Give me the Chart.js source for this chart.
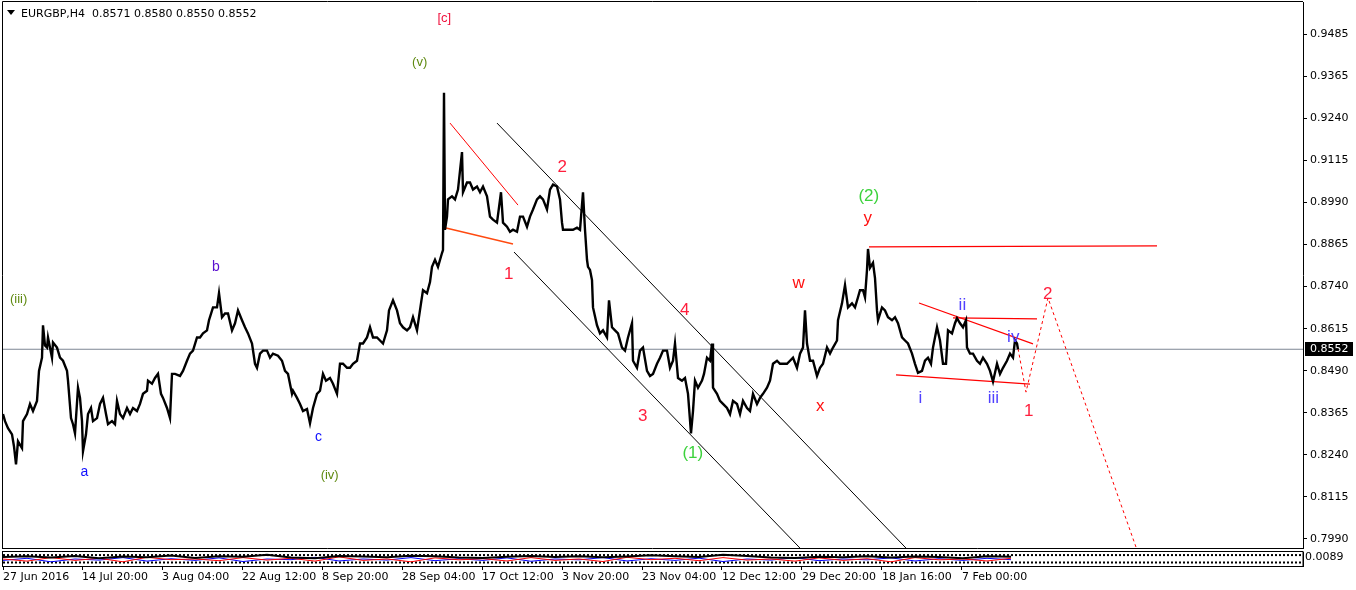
<!DOCTYPE html>
<html>
<head>
<meta charset="utf-8">
<script src="https://cdn.jsdelivr.net/npm/chart.js@4.4.1/dist/chart.umd.min.js"></script>
<style>
html, body { margin: 0; padding: 0; background: #fff; overflow: hidden; }
#main { position: absolute; left: 0; top: 0; }
#sub { position: absolute; left: 0; top: 549px; }
</style>
</head>
<body>
<canvas id="main" width="1356" height="550"></canvas>
<canvas id="sub" width="1356" height="41"></canvas>
<script>
// EURGBP H4, bar index (0 = 27 Jun 2016 00:00) and close
const bars = [
  0, 2, 5, 9, 11, 13, 15, 19, 20, 24,
  27, 30, 34, 36, 39, 40, 42, 44, 45, 49,
  50, 54, 57, 60, 64, 65, 68, 70, 72, 75,
  77, 79, 80, 83, 85, 88, 90, 94, 97, 100,
  103, 105, 109, 112, 114, 117, 120, 124, 127, 130,
  134, 137, 140, 144, 145, 149, 152, 155, 158, 160,
  164, 167, 169, 172, 177, 180, 184, 187, 190, 194,
  197, 200, 204, 206, 210, 214, 216, 219, 222, 225,
  229, 232, 235, 239, 242, 245, 249, 252, 254, 257,
  260, 264, 267, 270, 275, 279, 282, 285, 289, 290,
  294, 297, 300, 304, 307, 310, 314, 317, 320, 323,
  327, 330, 334, 337, 340, 344, 347, 350, 354, 357,
  360, 364, 367, 370, 374, 377, 380, 384, 386, 390,
  394, 397, 400, 404, 407, 410, 414, 418, 420, 424,
  427, 429, 432, 435, 439, 440, 441, 442, 444, 445,
  449, 452, 455, 459, 460, 464, 467, 470, 474, 477,
  480, 484, 487, 490, 494, 498, 500, 504, 507, 510,
  514, 517, 520, 524, 527, 530, 534, 537, 540, 544,
  547, 550, 554, 557, 559, 560, 564, 567, 570, 574,
  577, 580, 582, 584, 585, 587, 589, 590, 594, 597,
  600, 604, 606, 609, 612, 615, 619, 622, 625, 629,
  630, 634, 637, 640, 644, 647, 650, 654, 657, 660,
  664, 667, 670, 672, 675, 679, 682, 685, 688, 690,
  692, 695, 699, 701, 704, 707, 709, 710, 714, 717,
  720, 724, 727, 730, 734, 737, 740, 744, 747, 750,
  754, 757, 760, 764, 767, 770, 774, 777, 780, 784,
  787, 790, 794, 797, 800, 802, 804, 807, 810, 814,
  817, 820, 824, 827, 830, 834, 835, 839, 842, 845,
  849, 852, 855, 857, 860, 862, 864, 865, 867, 870,
  872, 874, 875, 879, 882, 885, 889, 892, 895, 899,
  902, 905, 909, 912, 915, 919, 922, 925, 928, 930,
  934, 937, 940, 943, 945, 949, 952, 954, 957, 960,
  963, 964, 967, 970, 974, 977, 980, 984, 987, 990,
  994, 997, 1000, 1004, 1007, 1010, 1012, 1014, 1015
]
const closes = [
  0.8360, 0.8339, 0.8318, 0.8300, 0.8264, 0.8211, 0.8279, 0.8259, 0.8339, 0.8360,
  0.8390, 0.8369, 0.8399, 0.8488, 0.8527, 0.8623, 0.8563, 0.8557, 0.8587, 0.8527,
  0.8572, 0.8557, 0.8527, 0.8518, 0.8488, 0.8459, 0.8348, 0.8330, 0.8303, 0.8438,
  0.8408, 0.8339, 0.8250, 0.8300, 0.8360, 0.8378, 0.8339, 0.8348, 0.8390, 0.8408,
  0.8360, 0.8330, 0.8339, 0.8330, 0.8399, 0.8360, 0.8348, 0.8378, 0.8360, 0.8378,
  0.8369, 0.8390, 0.8420, 0.8429, 0.8459, 0.8450, 0.8467, 0.8479, 0.8420, 0.8408,
  0.8378, 0.8348, 0.8479, 0.8479, 0.8473, 0.8488, 0.8518, 0.8539, 0.8548, 0.8587,
  0.8587, 0.8599, 0.8608, 0.8638, 0.8676, 0.8676, 0.8718, 0.8647, 0.8658, 0.8658,
  0.8608, 0.8629, 0.8667, 0.8638, 0.8617, 0.8599, 0.8569, 0.8509, 0.8497, 0.8539,
  0.8548, 0.8548, 0.8527, 0.8539, 0.8533, 0.8518, 0.8488, 0.8479, 0.8420, 0.8429,
  0.8408, 0.8390, 0.8369, 0.8375, 0.8333, 0.8378, 0.8420, 0.8429, 0.8479, 0.8459,
  0.8467, 0.8450, 0.8420, 0.8509, 0.8509, 0.8497, 0.8497, 0.8509, 0.8518, 0.8569,
  0.8569, 0.8587, 0.8617, 0.8587, 0.8587, 0.8578, 0.8569, 0.8608, 0.8667, 0.8697,
  0.8667, 0.8629, 0.8617, 0.8608, 0.8617, 0.8647, 0.8608, 0.8688, 0.8727, 0.8718,
  0.8751, 0.8796, 0.8817, 0.8796, 0.8837, 0.8846, 0.9312, 0.8906, 0.8945, 0.8996,
  0.9005, 0.8996, 0.9025, 0.9136, 0.9017, 0.9046, 0.9046, 0.9025, 0.9034, 0.9017,
  0.9034, 0.9005, 0.8945, 0.8936, 0.8927, 0.9017, 0.8927, 0.8915, 0.8900, 0.8906,
  0.8900, 0.8945, 0.8945, 0.8915, 0.8945, 0.8966, 0.8996, 0.9005, 0.8996, 0.8966,
  0.9025, 0.9040, 0.9034, 0.8996, 0.8927, 0.8906, 0.8906, 0.8906, 0.8906, 0.8912,
  0.8906, 0.9017, 0.8906, 0.8817, 0.8796, 0.8787, 0.8757, 0.8676, 0.8623, 0.8599,
  0.8608, 0.8587, 0.8697, 0.8617, 0.8608, 0.8599, 0.8557, 0.8548, 0.8587, 0.8629,
  0.8518, 0.8497, 0.8548, 0.8557, 0.8488, 0.8473, 0.8479, 0.8509, 0.8527, 0.8548,
  0.8548, 0.8497, 0.8518, 0.8569, 0.8467, 0.8459, 0.8467, 0.8420, 0.8303, 0.8369,
  0.8459, 0.8438, 0.8459, 0.8479, 0.8527, 0.8518, 0.8569, 0.8438, 0.8420, 0.8399,
  0.8390, 0.8378, 0.8360, 0.8399, 0.8390, 0.8360, 0.8399, 0.8378, 0.8369, 0.8420,
  0.8390, 0.8408, 0.8420, 0.8438, 0.8459, 0.8509, 0.8518, 0.8509, 0.8509, 0.8509,
  0.8518, 0.8527, 0.8497, 0.8539, 0.8557, 0.8667, 0.8569, 0.8518, 0.8518, 0.8473,
  0.8497, 0.8509, 0.8557, 0.8539, 0.8557, 0.8578, 0.8638, 0.8688, 0.8742, 0.8676,
  0.8688, 0.8676, 0.8706, 0.8727, 0.8727, 0.8706, 0.8787, 0.8849, 0.8793, 0.8808,
  0.8763, 0.8667, 0.8638, 0.8676, 0.8667, 0.8647, 0.8638, 0.8647, 0.8629, 0.8587,
  0.8578, 0.8569, 0.8539, 0.8509, 0.8482, 0.8488, 0.8518, 0.8527, 0.8509, 0.8557,
  0.8617, 0.8578, 0.8509, 0.8509, 0.8608, 0.8599, 0.8629, 0.8644, 0.8629, 0.8617,
  0.8638, 0.8557, 0.8539, 0.8539, 0.8518, 0.8509, 0.8527, 0.8509, 0.8488, 0.8456,
  0.8509, 0.8479, 0.8497, 0.8518, 0.8539, 0.8527, 0.8578, 0.8569, 0.8552
]

const lastPrice = 0.8552
const headerText = 'EURGBP,H4  0.8571 0.8580 0.8550 0.8552'

const priceTickLabels = ['0.7990', '0.8115', '0.8240', '0.8365', '0.8490', '0.8615', '0.8740',
  '0.8865', '0.8990', '0.9115', '0.9240', '0.9365', '0.9485']
const dateBars = [0, 79, 159, 239, 319, 399, 479, 559, 639, 719, 799, 879, 959]
const dateLabels = ['27 Jun 2016', '14 Jul 20:00', '3 Aug 04:00', '22 Aug 12:00', '8 Sep 20:00',
  '28 Sep 04:00', '17 Oct 12:00', '3 Nov 20:00', '23 Nov 04:00', '12 Dec 12:00',
  '29 Dec 20:00', '18 Jan 16:00', '7 Feb 00:00']

// drawn objects, [bar, price]
const channelUpper = [[494, 0.9222], [903, 0.7963]]
const channelLower = [[511, 0.8840], [797, 0.7963]]
const wedgeTop = [[447, 0.9222], [515, 0.8979]]
const wedgeBottom = [[443, 0.8911], [510, 0.8864]]
const yHigh = [[866, 0.8855], [1154, 0.8858]]
const triTop = [[916, 0.8689], [1030, 0.8568]]
const triFlat = [[950, 0.8645], [1034, 0.8642]]
const triLow = [[893, 0.8476], [1027, 0.8449]]
const projection = [[1014, 0.8571], [1023, 0.8425], [1045, 0.8704], [1133, 0.7966]]

// wave labels [text, bar, price]
const degreeC = [['[c]', 441, 0.9530]]
const oliveWaves = [['(iii)', 15.5, 0.8698], ['(v)', 416.5, 0.9400], ['(iv)', 326.5, 0.8177]]
const blueWaves = [['a', 81.5, 0.8188], ['c', 315.5, 0.8292]]
const purpleWaves = [['b', 213, 0.8799]]
const redWaves = [['1', 506, 0.8778], ['2', 559, 0.9096], ['3', 639.5, 0.8356], ['4', 681.5, 0.8671],
  ['1', 1026, 0.8372], ['2', 1044.5, 0.8719]]
const redLetters = [['w', 795.5, 0.8747], ['x', 817.5, 0.8382], ['y', 865, 0.8935]]
const greenWaves = [['(1)', 690, 0.8242], ['(2)', 866, 0.9003]]
const minorWaves = [['i', 917.5, 0.8411], ['ii', 959.5, 0.8685], ['iii', 990.5, 0.8411], ['iv', 1011, 0.8591]]

// indicator sub-window (rough)
const indBars = [0, 24, 48, 72, 96, 120, 144, 168, 192, 216, 240, 264, 288, 312, 336, 360, 384, 408, 432, 456,
  480, 504, 528, 552, 576, 600, 624, 648, 672, 696, 720, 744, 768, 792, 816, 840, 864, 888, 912, 936, 960, 984, 1008]
const indBlack = [0.65, 0.7, 0.6, 0.72, 0.55, 0.68, 0.62, 0.75, 0.58, 0.7, 0.66, 0.8, 0.6, 0.55, 0.72, 0.68, 0.62,
  0.74, 0.7, 0.6, 0.58, 0.66, 0.72, 0.64, 0.7, 0.62, 0.68, 0.76, 0.7, 0.65, 0.8, 0.72, 0.6, 0.58, 0.66, 0.62, 0.7,
  0.6, 0.68, 0.64, 0.55, 0.7, 0.66]
const indRed = [0.5, 0.35, 0.6, 0.4, 0.55, 0.3, 0.62, 0.45, 0.5, 0.38, 0.6, 0.42, 0.55, 0.35, 0.65, 0.4, 0.5, 0.3,
  0.58, 0.44, 0.52, 0.36, 0.6, 0.4, 0.5, 0.32, 0.62, 0.45, 0.55, 0.38, 0.6, 0.42, 0.5, 0.35, 0.58, 0.4, 0.52,
  0.3, 0.6, 0.44, 0.5, 0.36, 0.55]
const indBlue = [0.4, 0.55, 0.3, 0.5, 0.42, 0.6, 0.35, 0.52, 0.4, 0.58, 0.32, 0.5, 0.45, 0.62, 0.36, 0.5, 0.42,
  0.6, 0.38, 0.52, 0.4, 0.58, 0.34, 0.5, 0.44, 0.6, 0.36, 0.52, 0.4, 0.56, 0.32, 0.5, 0.42, 0.6, 0.38, 0.5, 0.44,
  0.58, 0.36, 0.52, 0.4, 0.55, 0.45]

const pts = pairs => pairs.map(p => ({ x: p[0], y: p[1] }))
const seg = (pairs, color, width, dash) => ({
  data: pts(pairs), borderColor: color, borderWidth: width, borderDash: dash || [],
  pointRadius: 0, tension: 0, order: 1
})

const priceData = bars.map((b, i) => ({ x: b, y: closes[i] }))
const tickValues = priceTickLabels.map((s, i) => 0.7990 + i * (0.9485 - 0.7990) / 12)

// no extra room for half labels at the ends of an axis
const fixBox = (w, h) => s => {
  if (w) s.width = w
  if (h) s.height = h
  s.paddingTop = 0; s.paddingBottom = 0; s.paddingLeft = 0; s.paddingRight = 0
}

const labelStyles = [
  [degreeC, '13px "Liberation Sans", Arial', '#f0103c'],
  [oliveWaves, '13px "Liberation Sans", Arial', '#5f8a10'],
  [blueWaves, '14px "Liberation Sans", Arial', '#1010ff'],
  [purpleWaves, '14px "Liberation Sans", Arial', '#5a10d0'],
  [redWaves, '17px "Liberation Sans", Arial', '#ff1e3c'],
  [redLetters, '17px "Liberation Sans", Arial', '#ff1010'],
  [greenWaves, '17px "Liberation Sans", Arial', '#3cd23c'],
  [minorWaves, '17px "Liberation Sans", Arial', '#5040ff']
]

function inkText(ctx, txt, cx, cy) {
  const m = ctx.measureText(txt)
  const x = cx - (m.actualBoundingBoxRight - m.actualBoundingBoxLeft) / 2
  const y = cy + (m.actualBoundingBoxAscent - m.actualBoundingBoxDescent) / 2
  ctx.fillText(txt, x, y)
}

const mainDecor = {
  id: 'mainDecor',
  afterDraw(chart) {
    const ctx = chart.ctx
    const xs = chart.scales.x, ys = chart.scales.y
    const area = chart.chartArea
    ctx.save()
    ctx.strokeStyle = '#000'
    ctx.lineWidth = 1
    ctx.beginPath()
    ctx.moveTo(2.5, 1.5); ctx.lineTo(area.right, 1.5)
    ctx.moveTo(2.5, 1.5); ctx.lineTo(2.5, 549)
    ctx.moveTo(2, 548.5); ctx.lineTo(area.right, 548.5)
    ctx.stroke()

    ctx.textAlign = 'left'
    ctx.textBaseline = 'alphabetic'
    // header
    ctx.fillStyle = '#000'
    ctx.beginPath()
    ctx.moveTo(7, 10); ctx.lineTo(15, 10); ctx.lineTo(11, 15); ctx.closePath()
    ctx.fill()
    ctx.font = '11px "DejaVu Sans"'
    ctx.fillText(headerText, 21, 17)

    // wave labels
    labelStyles.forEach(([list, font, color]) => {
      ctx.font = font
      ctx.fillStyle = color
      list.forEach(([t, b, p]) => inkText(ctx, t, xs.getPixelForValue(b), ys.getPixelForValue(p)))
    })

    // current price box
    const py = Math.round(ys.getPixelForValue(lastPrice))
    ctx.fillStyle = '#000'
    ctx.fillRect(area.right + 2, py - 7, 48, 14)
    ctx.fillStyle = '#fff'
    ctx.font = '11px "DejaVu Sans"'
    ctx.textBaseline = 'middle'
    ctx.fillText(lastPrice.toFixed(4), area.right + 7, py + 0.5)
    ctx.restore()
  }
}

new Chart(document.getElementById('main').getContext('2d'), {
  type: 'line',
  data: {
    datasets: [
      { data: priceData, borderColor: '#000', borderWidth: 2.4, pointRadius: 0, tension: 0, order: 0 },
      { data: [{ x: 0, y: lastPrice }, { x: 1300, y: lastPrice }], borderColor: '#7d8794', borderWidth: 1, pointRadius: 0, order: 2 },
      seg(channelUpper, '#000', 1),
      seg(channelLower, '#000', 1),
      seg(wedgeTop, '#ff0000', 1),
      seg(wedgeBottom, '#ff4a10', 1.5),
      seg(yHigh, '#ff0000', 1.2),
      seg(triTop, '#ff0000', 1.2),
      seg(triFlat, '#ff0000', 1.2),
      seg(triLow, '#ff0000', 1.2),
      seg(projection, '#ff0000', 1, [3, 3])
    ]
  },
  options: {
    responsive: false,
    animation: false,
    devicePixelRatio: 1,
    layout: { padding: { left: 3, top: 2, right: 0, bottom: 2 } },
    plugins: { legend: { display: false }, tooltip: { enabled: false } },
    scales: {
      x: { type: 'linear', min: 0, max: 1300, display: false },
      y: {
        position: 'right',
        min: 0.79633,
        max: 0.95806,
        afterFit: fixBox(53, 0),
        afterBuildTicks: s => { s.ticks = tickValues.map(v => ({ value: v })) },
        ticks: {
          color: '#000',
          padding: 3,
          font: { family: 'DejaVu Sans', size: 11 },
          callback: (v, i) => priceTickLabels[i]
        },
        grid: { drawOnChartArea: false, drawTicks: true, tickLength: 4, color: '#000' },
        border: { display: true, color: '#000' }
      }
    }
  },
  plugins: [mainDecor]
})

const subDecor = {
  id: 'subDecor',
  afterDraw(chart) {
    const ctx = chart.ctx
    const a = chart.chartArea
    ctx.save()
    ctx.strokeStyle = '#000'
    ctx.lineWidth = 1
    ctx.strokeRect(2.5, a.top - 0.5, a.right - 2.5, a.bottom - a.top + 1)
    ctx.restore()
  }
}

const indLine = (vals, color, width) => ({
  data: indBars.map((b, i) => ({ x: b, y: vals[i] })),
  borderColor: color, borderWidth: width, pointRadius: 0, tension: 0
})

new Chart(document.getElementById('sub').getContext('2d'), {
  type: 'line',
  data: {
    datasets: [
      indLine(indBlack, '#000', 2),
      indLine(indRed, '#ff0000', 1),
      indLine(indBlue, '#0000ff', 1),
      { data: [{ x: 0, y: 0.78 }, { x: 1300, y: 0.78 }], borderColor: '#000', borderWidth: 2, borderDash: [2, 2], pointRadius: 0 },
      { data: [{ x: 0, y: 0.25 }, { x: 1300, y: 0.25 }], borderColor: '#000', borderWidth: 2, borderDash: [2, 2], pointRadius: 0 }
    ]
  },
  options: {
    responsive: false,
    animation: false,
    devicePixelRatio: 1,
    layout: { padding: { left: 3, top: 3, right: 0, bottom: 0 } },
    plugins: { legend: { display: false }, tooltip: { enabled: false } },
    scales: {
      x: {
        type: 'linear', min: 0, max: 1300,
        afterFit: fixBox(0, 24),
        afterBuildTicks: s => { s.ticks = dateBars.map(v => ({ value: v })) },
        ticks: {
          autoSkip: false, maxRotation: 0, align: 'start', padding: 1, color: '#000',
          font: { family: 'DejaVu Sans', size: 11 },
          callback: (v, i) => dateLabels[i]
        },
        grid: { drawOnChartArea: false, drawTicks: true, tickLength: 4, color: '#000' },
        border: { display: true, color: '#000' }
      },
      y: {
        position: 'right', min: 0, max: 1,
        afterFit: fixBox(53, 0),
        afterBuildTicks: s => { s.ticks = [{ value: 0.62 }, { value: 0.45 }] },
        ticks: {
          color: '#000', padding: 2,
          font: { family: 'DejaVu Sans', size: 11 },
          callback: (v, i) => ['0.0089', '0.0079'][i]
        },
        grid: { drawOnChartArea: false, drawTicks: false },
        border: { display: true, color: '#000' }
      }
    }
  },
  plugins: [subDecor]
})
</script>
</body>
</html>
